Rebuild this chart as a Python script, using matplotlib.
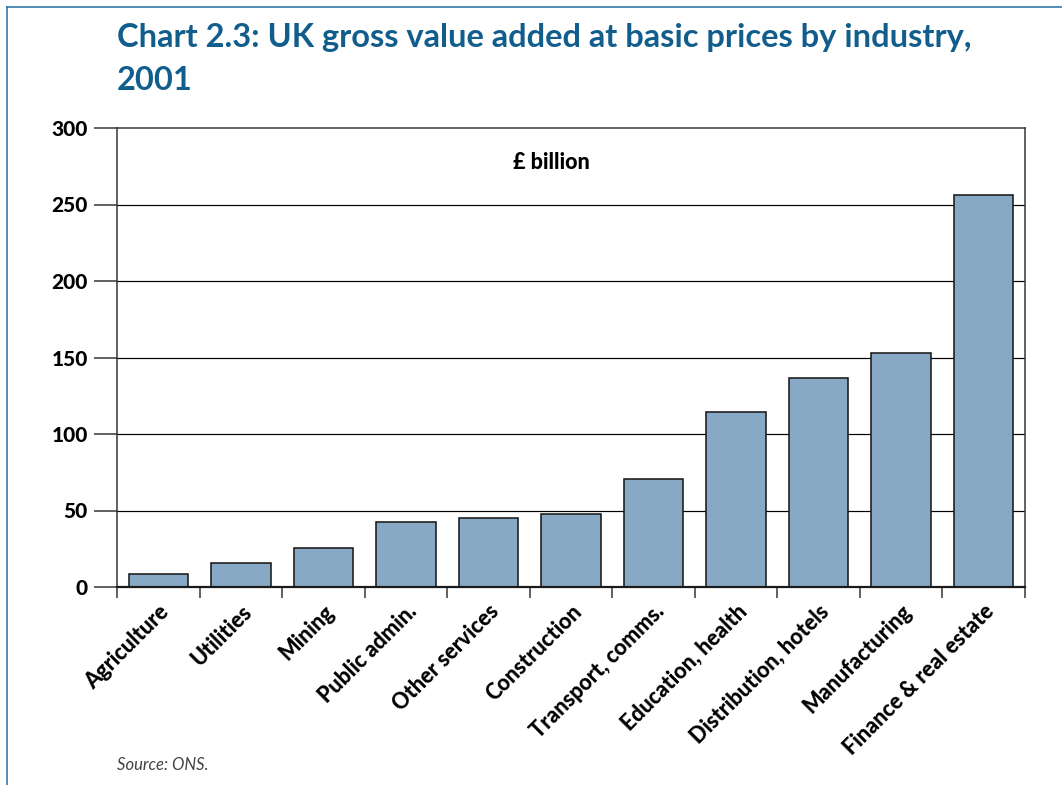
import numpy as np
import matplotlib
matplotlib.use("Agg")
import matplotlib.pyplot as plt
from matplotlib.lines import Line2D

plt.rcParams['font.family'] = ['Lato', 'DejaVu Sans']

industries = ["Agriculture", "Utilities", "Mining", "Public admin.", "Other services",
              "Construction", "Transport, comms.", "Education, health",
              "Distribution, hotels", "Manufacturing", "Finance & real estate"]
gva_bn = [8.3, 16.0, 25.8, 42.3, 45.4, 47.6, 70.5, 114.4, 136.4, 152.8, 255.9]
y_ticks = [0, 50, 100, 150, 200, 250, 300]

W, H = 1062, 785
PX = 72 / 100  # points per pixel at 100 dpi
fig = plt.figure(figsize=(W / 100, H / 100), dpi=100)

# page frame (left and top rules)
frame_col = '#2e74a6'
fig.add_artist(Line2D([7 / W, 7 / W], [0, 1 - 7 / H], color=frame_col, lw=1.6 * PX,
                      transform=fig.transFigure))
fig.add_artist(Line2D([7 / W, 1], [1 - 7 / H, 1 - 7 / H], color=frame_col, lw=1.6 * PX,
                      transform=fig.transFigure))

fig.text(117 / W, 1 - 23 / H,
         "Chart 2.3: UK gross value added at basic prices by industry,\n2001",
         color='#115e8d', fontsize=23.5, fontweight='bold', ha='left', va='top',
         linespacing=1.6)

ax = fig.add_axes([117 / W, 1 - 587 / H, (1025 - 117) / W, (587 - 128) / H])
x = np.arange(len(industries))
ax.bar(x, gva_bn, width=0.72, color='#87a9c6', edgecolor='#1a1a1a',
       linewidth=1.6 * PX, zorder=3)

ax.set_xlim(-0.5, len(industries) - 0.5)
ax.set_ylim(0, 300)
ax.set_yticks(y_ticks)
ax.set_yticklabels([str(v) for v in y_ticks], fontsize=15, fontweight='black')
ax.tick_params(axis='y', direction='out', length=23 * PX, width=1.5 * PX,
               color='#333333', pad=6 * PX)

for v in y_ticks[1:-1]:
    ax.axhline(v, color='black', lw=1.2 * PX, zorder=1)

# category boundaries as ticks, names at the bar centres
ax.set_xticks(np.arange(-0.5, len(industries), 1.0))
ax.set_xticklabels([])
ax.tick_params(axis='x', which='major', direction='out', length=11 * PX,
               width=1.5 * PX, color='#333333')
ax.set_xticks(x, minor=True)
ax.set_xticklabels(industries, minor=True, rotation=45, ha='right', va='top',
                   rotation_mode='anchor', fontsize=15.5, fontweight='black')
ax.tick_params(axis='x', which='minor', length=0, pad=10)

for s in ax.spines.values():
    s.set_color('#333333')
    s.set_linewidth(1.5 * PX)
ax.spines['bottom'].set_color('#1a1a1a')
ax.spines['bottom'].set_linewidth(2.2 * PX)
ax.spines['bottom'].set_zorder(4)

ax.text(0.478, 0.925, "£ billion", transform=ax.transAxes, ha='center', va='center',
        fontsize=15.5, fontweight='black')

fig.text(117 / W, 1 - 765 / H, "Source: ONS.", fontsize=12, fontstyle='italic',
         color='#444444', ha='left', va='center')

fig.savefig("out.png", dpi=100)
